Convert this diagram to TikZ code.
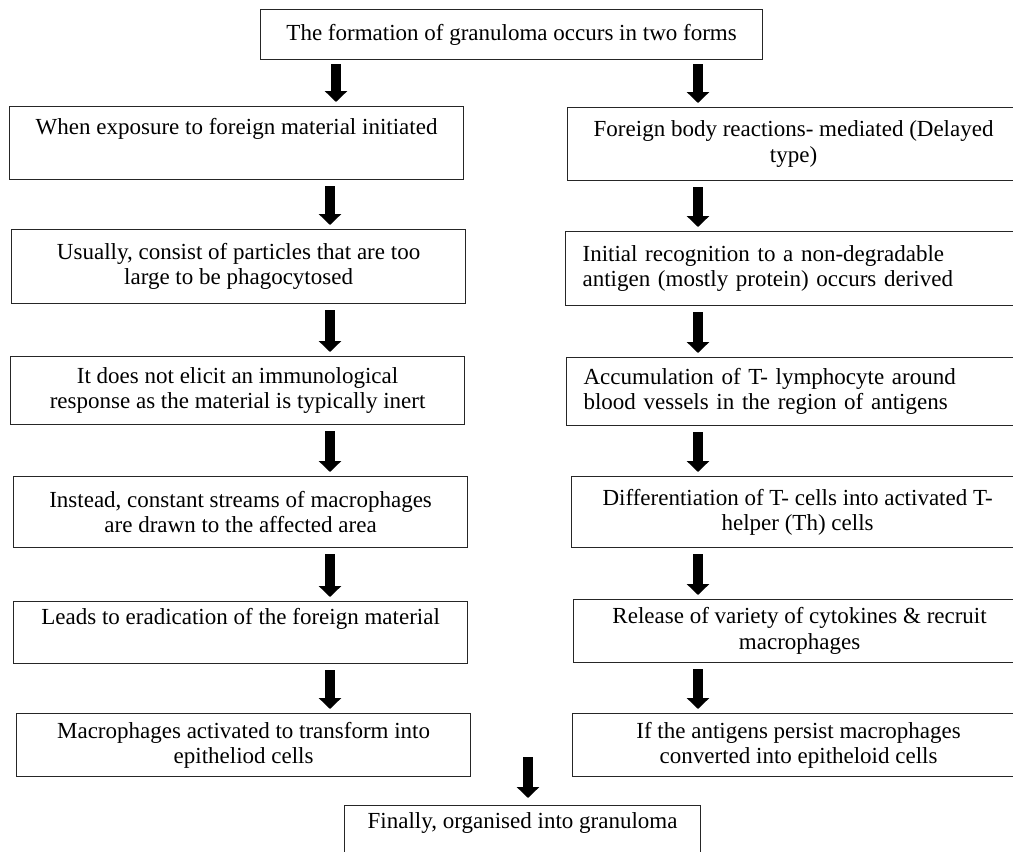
\documentclass[tikz,border=0pt]{standalone}
\usepackage{fontspec}
\setmainfont{Liberation Serif}
\usepackage{tikz}
\usetikzlibrary{arrows.meta,positioning}
\newcommand{\flowfont}{\fontsize{23}{25.5}\selectfont}

\begin{document}
\begin{tikzpicture}[
    x=1pt, y=-1pt,
    box/.style={draw=black!85, line width=1.2pt, anchor=north west, inner sep=0pt, align=center, font=\flowfont},
    lbox/.style={box, minimum width=454pt},
    rbox/.style={box, minimum width=452pt},
    flushbox/.style={rbox, text width=418pt, align=left},
    arrow/.style={-{Triangle[width=22pt,length=11pt]}, line width=9.5pt, shorten <=6pt, shorten >=4pt},
]
\useasboundingbox (0,0) rectangle (1013,852);
\clip (0,0) rectangle (1013,852);

% top of the chart
\node[box, minimum width=502pt, minimum height=50pt] (forms) at (260,9) {The formation of granuloma occurs in two forms};

% columns where the arrows run
\coordinate (lx) at (330,0);
\coordinate (tlx) at (336,0);
\coordinate (rx) at (698,0);

% left column: foreign material
\node[lbox, minimum height=73pt] (expo) at (9,106) {When exposure to foreign material initiated\\ \strut};
\node[lbox, minimum height=74pt] (large) at (11,229) {Usually, consist of particles that are too\\large to be phagocytosed};
\node[lbox, minimum height=68pt] (inert) at (10,356) {It does not elicit an immunological\\response as the material is typically inert};
\node[lbox, minimum height=71pt] (streams) at (13,476) {Instead, constant streams of macrophages\\are drawn to the affected area};
\node[lbox, minimum height=62pt] (erad) at (13,601) {Leads to eradication of the foreign material\\ \strut};
\node[lbox, minimum height=63pt] (epil) at (16,713) {Macrophages activated to transform into\\epitheliod cells};

% right column: immune mediated (runs off the right edge)
\node[rbox, minimum height=73pt] (delay) at (567,107) {Foreign body reactions- mediated (Delayed\\type)};
\node[flushbox, minimum height=74pt] (recog) at (565,231) {Initial recognition to a non-degradable\\antigen (mostly protein) occurs derived};
\node[flushbox, minimum height=68pt] (accum) at (566,357) {Accumulation of T- lymphocyte around\\blood vessels in the region of antigens};
\node[rbox, minimum height=71pt] (diff) at (571,476) {Differentiation of T- cells into activated T-\\helper (Th) cells};
\node[rbox, minimum height=63pt] (cyto) at (573,599) {Release of variety of cytokines \& recruit\\macrophages};
\node[rbox, minimum height=63pt] (epir) at (572,713) {If the antigens persist macrophages\\converted into epitheloid cells};

% last step
\coordinate (fin_top) at (528,757);
\node[box, minimum width=356pt, minimum height=62pt] (granuloma) at (344,805) {Finally, organised into granuloma\\ \strut};

\draw[arrow, shorten <=4pt] (forms.south -| tlx) -- (expo.north -| tlx);
\draw[arrow, shorten <=4pt] (forms.south -| rx) -- (delay.north -| rx);

\draw[arrow] (expo.south -| lx) -- (large.north -| lx);
\draw[arrow] (large.south -| lx) -- (inert.north -| lx);
\draw[arrow] (inert.south -| lx) -- (streams.north -| lx);
\draw[arrow] (streams.south -| lx) -- (erad.north -| lx);
\draw[arrow] (erad.south -| lx) -- (epil.north -| lx);

\draw[arrow] (delay.south -| rx) -- (recog.north -| rx);
\draw[arrow] (recog.south -| rx) -- (accum.north -| rx);
\draw[arrow] (accum.south -| rx) -- (diff.north -| rx);
\draw[arrow] (diff.south -| rx) -- (cyto.north -| rx);
\draw[arrow] (cyto.south -| rx) -- (epir.north -| rx);

\draw[arrow, shorten <=0pt, shorten >=7pt] (fin_top) -- (granuloma.north -| fin_top);

\end{tikzpicture}
\end{document}
